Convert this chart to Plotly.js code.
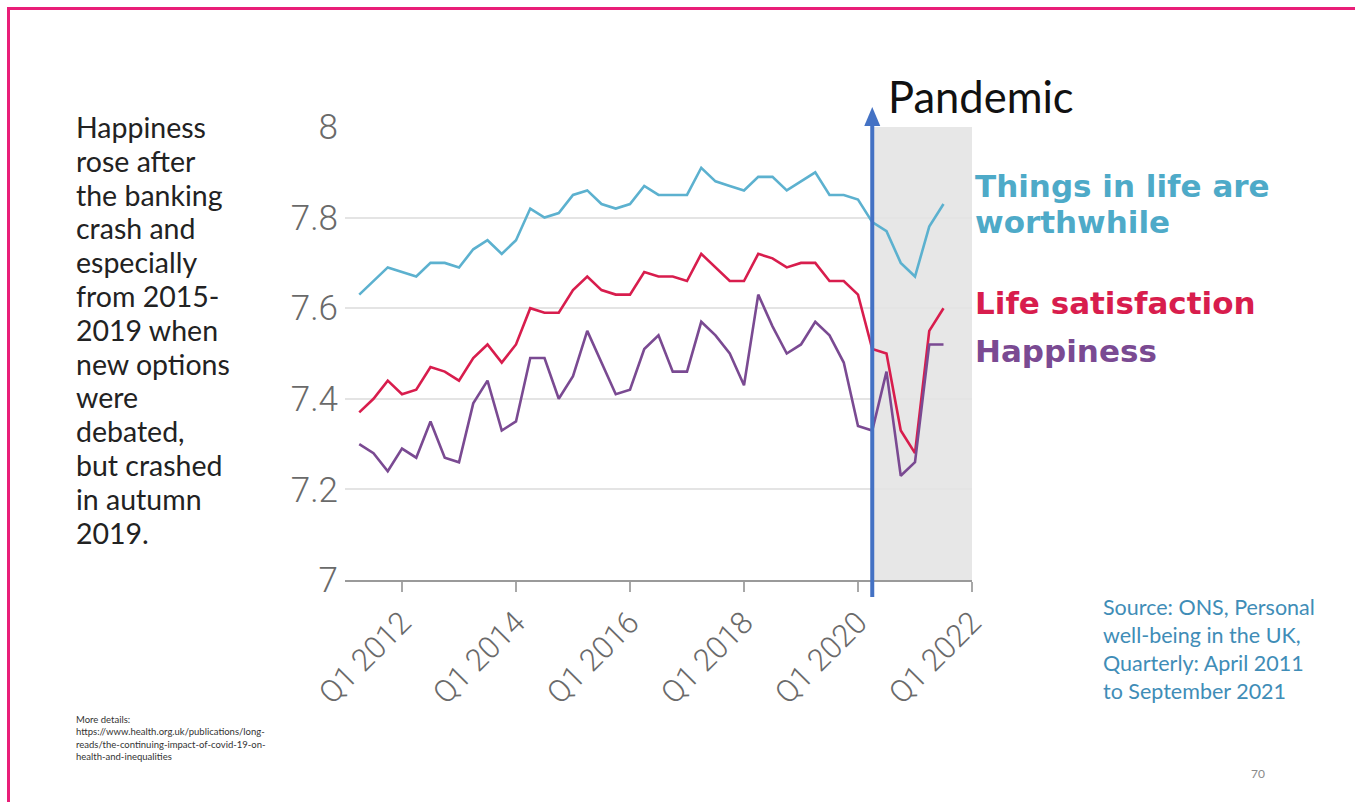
<!DOCTYPE html>
<html>
<head>
<meta charset="utf-8">
<script src="https://cdn.plot.ly/plotly-3.0.1.min.js"></script>
<style>
  html, body { margin: 0; padding: 0; background: #ffffff; overflow: hidden; }
  #frame { position: absolute; left: 7px; top: 7px; width: 1400px; height: 850px;
           border-top: 3px solid #e91e78; border-left: 3px solid #e91e78; pointer-events: none; z-index: 5; }
  #chart { width: 1355px; height: 802px; }
</style>
</head>
<body>
<div id="frame"></div>
<div id="chart"></div>
<script>
// Quarters from April 2011 (Q2 2011) to September 2021 (Q3 2021)
const quarters = [
  "2011 Q2","2011 Q3","2011 Q4",
  "2012 Q1","2012 Q2","2012 Q3","2012 Q4",
  "2013 Q1","2013 Q2","2013 Q3","2013 Q4",
  "2014 Q1","2014 Q2","2014 Q3","2014 Q4",
  "2015 Q1","2015 Q2","2015 Q3","2015 Q4",
  "2016 Q1","2016 Q2","2016 Q3","2016 Q4",
  "2017 Q1","2017 Q2","2017 Q3","2017 Q4",
  "2018 Q1","2018 Q2","2018 Q3","2018 Q4",
  "2019 Q1","2019 Q2","2019 Q3","2019 Q4",
  "2020 Q1","2020 Q2","2020 Q3","2020 Q4",
  "2021 Q1","2021 Q2","2021 Q3"
];
const worthwhile = [7.63,7.66,7.69,7.68,7.67,7.70,7.70,7.69,7.73,7.75,7.72,7.75,7.82,7.80,7.81,7.85,7.86,7.83,7.82,7.83,7.87,7.85,7.85,7.85,7.91,7.88,7.87,7.86,7.89,7.89,7.86,7.88,7.90,7.85,7.85,7.84,7.79,7.77,7.70,7.67,7.78,7.83];
const lifeSatisfaction = [7.37,7.40,7.44,7.41,7.42,7.47,7.46,7.44,7.49,7.52,7.48,7.52,7.60,7.59,7.59,7.64,7.67,7.64,7.63,7.63,7.68,7.67,7.67,7.66,7.72,7.69,7.66,7.66,7.72,7.71,7.69,7.70,7.70,7.66,7.66,7.63,7.51,7.50,7.33,7.28,7.55,7.60];
const happiness = [7.30,7.28,7.24,7.29,7.27,7.35,7.27,7.26,7.39,7.44,7.33,7.35,7.49,7.49,7.40,7.45,7.55,7.48,7.41,7.42,7.51,7.54,7.46,7.46,7.57,7.54,7.50,7.43,7.63,7.56,7.50,7.52,7.57,7.54,7.48,7.34,7.33,7.46,7.23,7.26,7.52,7.52];
const tickYears = [2012, 2014, 2016, 2018, 2020, 2022];
const tickLabels = ["Q1 2012","Q1 2014","Q1 2016","Q1 2018","Q1 2020","Q1 2022"];
const yTicks = [7, 7.2, 7.4, 7.6, 7.8, 8];
const yTickLabels = ["7","7.2","7.4","7.6","7.8","8"];
const pandemicStart = "2020 Q2";
const noteLines = ["Happiness","rose after","the banking","crash and","especially","from 2015-","2019 when","new options","were","debated,","but crashed","in autumn","2019."];

function qx(q) { const [y, qq] = q.split(" Q"); return +y + (+qq - 1) / 4; }
const xs = quarters.map(qx);

const W = 1355, H = 802;
const L = 345, R = 972, T = 127, B = 580;
const px = v => (v - L) / (R - L);
const py = v => (B - v) / (B - T);
const xPerPx = (2022 - 2011) / (R - L);

const colWorth = "#5cb1cf", colLife = "#d81d4d", colHappy = "#7a4a92";
const labelFont = "DejaVu Sans, sans-serif";
const labelSize = 31;

const traces = [
  { x: xs, y: worthwhile, type: "scatter", mode: "lines", line: { color: colWorth, width: 2.6 }, name: "Things in life are worthwhile", hoverinfo: "skip" },
  { x: xs, y: lifeSatisfaction, type: "scatter", mode: "lines", line: { color: colLife, width: 2.6 }, name: "Life satisfaction", hoverinfo: "skip" },
  { x: xs, y: happiness, type: "scatter", mode: "lines", line: { color: colHappy, width: 2.6 }, name: "Happiness", hoverinfo: "skip" }
];

const pStart = qx(pandemicStart);
const arrowBlue = "#4472c4";

const annotations = [
  { xref: "paper", yref: "paper", x: px(886), y: py(96), xanchor: "left", yanchor: "middle", showarrow: false,
    text: "Pandemic", font: { family: "Lato, sans-serif", size: 43.5, color: "#111111" } },
  { xref: "paper", yref: "paper", x: px(973), y: py(185.5), xanchor: "left", yanchor: "middle", showarrow: false,
    text: "Things in life are", font: { family: labelFont, size: labelSize, color: "#4eaac8", weight: "bold" } },
  { xref: "paper", yref: "paper", x: px(973), y: py(222), xanchor: "left", yanchor: "middle", showarrow: false,
    text: "worthwhile", font: { family: labelFont, size: labelSize, color: "#4eaac8", weight: "bold" } },
  { xref: "paper", yref: "paper", x: px(973), y: py(303), xanchor: "left", yanchor: "middle", showarrow: false,
    text: "Life satisfaction", font: { family: labelFont, size: labelSize, color: colLife, weight: "bold" } },
  { xref: "paper", yref: "paper", x: px(973), y: py(351), xanchor: "left", yanchor: "middle", showarrow: false,
    text: "Happiness", font: { family: labelFont, size: labelSize, color: colHappy, weight: "bold" } },
  { xref: "paper", yref: "paper", x: px(1101), y: py(649), xanchor: "left", yanchor: "middle", showarrow: false, align: "left",
    text: "Source: ONS, Personal<br>well-being in the UK,<br>Quarterly: April 2011<br>to September 2021",
    font: { family: "Lato, sans-serif", size: 21.5, color: "#3f8db7" } },
  { xref: "paper", yref: "paper", x: px(74), y: py(738), xanchor: "left", yanchor: "middle", showarrow: false, align: "left",
    text: "More details:<br>https://www.health.org.uk/publications/long-<br>reads/the-continuing-impact-of-covid-19-on-<br>health-and-inequalities",
    font: { family: "Lato, sans-serif", size: 9.5, color: "#333333" } },
  { xref: "paper", yref: "paper", x: px(1258), y: py(773), xanchor: "center", yanchor: "middle", showarrow: false,
    text: "70", font: { family: "Lato, sans-serif", size: 12, color: "#8a8a8a" } }
];
noteLines.forEach((t, i) => annotations.push({
  xref: "paper", yref: "paper", x: px(74), y: py(127 + i * 33.8), xanchor: "left", yanchor: "middle", showarrow: false,
  text: t, font: { family: "Lato, sans-serif", size: 28.5, color: "#222222" }
}));

const layout = {
  width: W, height: H,
  margin: { l: L, r: W - R, t: T, b: H - B, pad: 0 },
  paper_bgcolor: "#ffffff", plot_bgcolor: "rgba(0,0,0,0)",
  showlegend: false,
  xaxis: {
    range: [2011, 2022], tickvals: tickYears, ticktext: tickLabels, tickangle: -45,
    showgrid: false, zeroline: false, showline: true, linecolor: "#9a9a9a", linewidth: 2,
    ticks: "outside", ticklen: 10, tickwidth: 2, tickcolor: "#a8a8a8",
    tickfont: { family: "Roboto, sans-serif", size: 31, color: "#6a6a6a", weight: 300 }
  },
  yaxis: {
    range: [7, 8], tickvals: yTicks, ticktext: yTickLabels,
    showgrid: true, gridcolor: "#e4e4e4", gridwidth: 2, zeroline: false, showline: false,
    ticks: "", ticklabelstandoff: 6,
    tickfont: { family: "Roboto, sans-serif", size: 35, color: "#6a6a6a", weight: 300 }
  },
  shapes: [
    { type: "rect", xref: "x", yref: "y", x0: pStart, x1: 2022, y0: 7, y1: 8, fillcolor: "#e7e7e7", line: { width: 0 }, layer: "below" },
    { type: "line", xref: "x", yref: "paper", x0: pStart, x1: pStart, y0: py(597), y1: py(122), line: { color: arrowBlue, width: 4 } },
    { type: "path", xref: "x", yref: "paper",
      path: `M ${pStart - 8 * xPerPx},${py(126)} L ${pStart},${py(107)} L ${pStart + 8 * xPerPx},${py(126)} Z`,
      fillcolor: arrowBlue, line: { width: 0 } }
  ],
  annotations: annotations
};

Plotly.newPlot("chart", traces, layout, { staticPlot: true, displayModeBar: false });
</script>
</body>
</html>
